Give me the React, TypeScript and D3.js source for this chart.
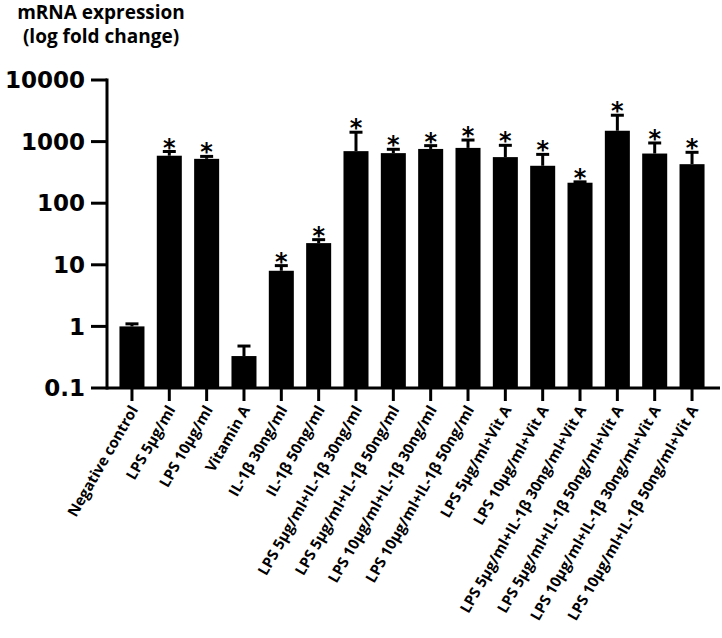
import React, { useRef, useEffect } from "react";
import * as d3 from "d3";

// treatment groups, left to right
const groups = [
  "Negative control",
  "LPS 5µg/ml",
  "LPS 10µg/ml",
  "Vitamin A",
  "IL-1β 30ng/ml",
  "IL-1β 50ng/ml",
  "LPS 5µg/ml+IL-1β 30ng/ml",
  "LPS 5µg/ml+IL-1β 50ng/ml",
  "LPS 10µg/ml+IL-1β 30ng/ml",
  "LPS 10µg/ml+IL-1β 50ng/ml",
  "LPS 5µg/ml+Vit A",
  "LPS 10µg/ml+Vit A",
  "LPS 5µg/ml+IL-1β 30ng/ml+Vit A",
  "LPS 5µg/ml+IL-1β 50ng/ml+Vit A",
  "LPS 10µg/ml+IL-1β 30ng/ml+Vit A",
  "LPS 10µg/ml+IL-1β 50ng/ml+Vit A",
];

// mean fold change and top of the error bar (mean + SD)
const means = [1.0, 590, 525, 0.33, 8.0, 22.5, 700, 650, 760, 790, 560, 405, 215, 1500, 640, 430];
const errTops = [1.1, 690, 575, 0.48, 9.7, 25.6, 1420, 750, 860, 1060, 870, 620, 222, 2680, 950, 670];
const significant = [false, true, true, false, true, true, true, true, true, true, true, true, true, true, true, true];

const yTicks = [0.1, 1, 10, 100, 1000, 10000];
const yTickLabels = ["0.1", "1", "10", "100", "1000", "10000"];

const W = 722;
const H = 638;

const App = () => {
  const svgRef = useRef<SVGSVGElement>(null);

  useEffect(() => {
    const svg = d3.select(svgRef.current);
    svg.selectAll("*").remove();

    const axisX = 107;
    const axisY = 388;

    const x = d3
      .scaleBand<string>()
      .domain(groups)
      .range([113.3, 710.7])
      .paddingInner(0.33)
      .paddingOuter(0.165);

    const y = d3.scaleLog().domain([0.1, 10000]).range([axisY, 80]);

    const data = groups.map((g, i) => ({
      group: g,
      mean: means[i],
      top: errTops[i],
      star: significant[i],
    }));

    /*** title ***/
    const title = svg
      .append("g")
      .attr("font-family", "'Open Sans', sans-serif")
      .attr("font-weight", 700)
      .attr("font-size", 19)
      .attr("text-anchor", "middle");
    title.append("text").attr("x", 101).attr("y", 19).text("mRNA expression");
    title.append("text").attr("x", 101).attr("y", 43).text("(log fold change)");

    /*** bars ***/
    svg
      .selectAll(".bar")
      .data(data)
      .enter()
      .append("rect")
      .attr("class", "bar")
      .attr("x", (d) => x(d.group)!)
      .attr("y", (d) => y(d.mean))
      .attr("width", x.bandwidth())
      .attr("height", (d) => axisY - y(d.mean))
      .attr("fill", "#000");

    /*** error bars (upper only) ***/
    const err = svg.append("g").attr("stroke", "#000").attr("stroke-width", 3);
    data.forEach((d) => {
      const cx = x(d.group)! + x.bandwidth() / 2;
      err
        .append("line")
        .attr("x1", cx)
        .attr("x2", cx)
        .attr("y1", y(d.mean))
        .attr("y2", y(d.top));
      err
        .append("line")
        .attr("x1", cx - 6.5)
        .attr("x2", cx + 6.5)
        .attr("y1", y(d.top))
        .attr("y2", y(d.top));
    });

    /*** significance stars ***/
    svg
      .selectAll(".star")
      .data(data.filter((d) => d.star))
      .enter()
      .append("text")
      .attr("class", "star")
      .attr("x", (d) => x(d.group)! + x.bandwidth() / 2)
      .attr("y", (d) => y(d.top) + 4)
      .attr("text-anchor", "middle")
      .attr("font-family", "'DejaVu Sans', sans-serif")
      .attr("font-weight", 700)
      .attr("font-size", 24)
      .text("*");

    /*** axes ***/
    const axes = svg.append("g").attr("stroke", "#000").attr("stroke-width", 3);
    axes
      .append("line")
      .attr("x1", axisX)
      .attr("x2", axisX)
      .attr("y1", y(10000) - 1.5)
      .attr("y2", axisY + 1.5);
    axes
      .append("line")
      .attr("x1", axisX)
      .attr("x2", 720)
      .attr("y1", axisY)
      .attr("y2", axisY);

    yTicks.forEach((t) => {
      axes
        .append("line")
        .attr("x1", axisX - 16)
        .attr("x2", axisX)
        .attr("y1", y(t))
        .attr("y2", y(t));
    });

    groups.forEach((g) => {
      const cx = x(g)! + x.bandwidth() / 2;
      axes
        .append("line")
        .attr("x1", cx)
        .attr("x2", cx)
        .attr("y1", axisY)
        .attr("y2", axisY + 13);
    });

    svg
      .append("g")
      .attr("font-family", "'DejaVu Sans', sans-serif")
      .attr("font-weight", 700)
      .attr("font-size", 23)
      .attr("text-anchor", "end")
      .selectAll("text")
      .data(yTicks)
      .enter()
      .append("text")
      .attr("x", axisX - 22)
      .attr("y", (t) => y(t))
      .attr("dy", "0.36em")
      .text((t, i) => yTickLabels[i]);

    /*** rotated group labels ***/
    svg
      .append("g")
      .attr("font-family", "'Open Sans', sans-serif")
      .attr("font-weight", 700)
      .attr("font-size", 15)
      .attr("text-anchor", "end")
      .selectAll("text")
      .data(groups)
      .enter()
      .append("text")
      .attr("transform", (g) => `translate(${x(g)! + x.bandwidth() / 2 + 2}, 407) rotate(-60)`)
      .attr("dy", "0.35em")
      .text((g) => g);
  }, []);

  return (
    <div style={{ position: "absolute", left: 0, top: 0, width: W, height: H, background: "#fff" }}>
      <svg ref={svgRef} width={W} height={H}></svg>
    </div>
  );
};

export default App;
